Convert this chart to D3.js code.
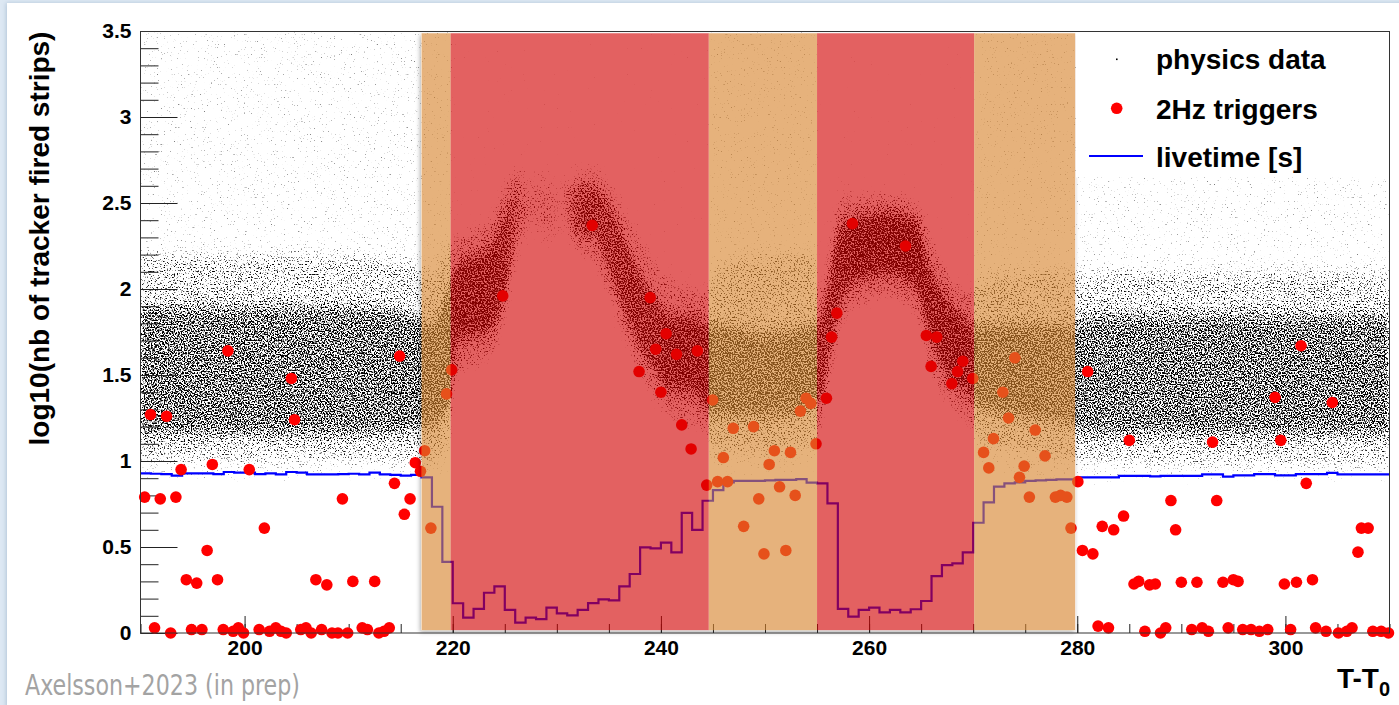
<!DOCTYPE html>
<html><head><meta charset="utf-8">
<script src="https://cdn.jsdelivr.net/npm/d3@7"></script>
<style>html,body{margin:0;padding:0;background:#fff;overflow:hidden}svg{display:block}</style>
</head><body><svg id="c" width="1399" height="705"></svg>
<script>
// ---------------- data ----------------
const xTickLabels = [200, 220, 240, 260, 280, 300];
const yTickLabels = ["0", "0.5", "1", "1.5", "2", "2.5", "3", "3.5"];

// shaded periods
const regionStart = [217, 219.8, 244.6, 255, 270.1];
const regionEnd   = [219.8, 244.6, 255, 270.1, 279.8];
const regionKind  = ["orange", "red", "orange", "red", "orange"];

// livetime per 1 s bin, bins starting at 190
const liveStart = 190;
const liveVals = [
 0.928,0.926,0.924,0.915,0.928,0.928,0.928,0.924,0.936,0.932,
 0.932,0.924,0.928,0.922,0.936,0.932,0.922,0.922,0.922,0.924,
 0.926,0.922,0.932,0.922,0.919,0.915,0.919,0.905,0.734,0.413,
 0.173,0.089,0.140,0.234,0.271,0.134,0.060,0.089,0.081,0.147,
 0.114,0.103,0.134,0.174,0.196,0.190,0.271,0.343,0.498,0.492,
 0.525,0.469,0.698,0.599,0.769,0.831,0.876,0.884,0.884,0.884,
 0.887,0.890,0.890,0.895,0.874,0.870,0.754,0.140,0.095,0.134,
 0.147,0.120,0.134,0.120,0.138,0.186,0.331,0.395,0.405,0.469,
 0.641,0.760,0.851,0.870,0.876,0.884,0.887,0.890,0.893,0.893,
 0.905,0.905,0.905,0.905,0.913,0.913,0.913,0.911,0.913,0.913,
 0.913,0.913,0.922,0.922,0.909,0.917,0.917,0.924,0.924,0.917,
 0.917,0.924,0.924,0.924,0.931,0.922,0.922,0.922,0.922,0.922];

// 2 Hz trigger events (time, log10 strips)
const trigT = [190.4,190.96,191.35,191.9,192.5,192.9,193.4,193.9,194.4,194.9,195.4,195.9,196.4,196.9,197.4,197.95,198.4,198.9,199.4,199.9,
 200.45,201.4,201.9,202.4,203.0,203.5,204.0,204.5,204.8,205.4,205.9,206.4,206.85,207.4,207.9,208.4,208.97,209.4,209.9,210.4,
 211.3,211.8,212.5,212.9,213.4,213.9,214.4,214.9,215.35,215.9,216.4,216.9,217.3,217.9,219.4,219.9,
 224.8,233.4,237.9,238.97,239.5,240.0,240.5,241.5,242.0,242.9,243.5,244.4,
 244.97,245.45,246.0,246.4,246.95,247.95,248.9,249.4,249.9,250.4,250.9,251.4,252.0,252.45,252.9,253.4,253.95,254.4,254.9,
 255.9,256.4,256.9,258.4,263.5,265.5,265.96,266.5,267.95,268.5,269.0,269.96,
 271.0,271.5,271.95,272.85,273.4,274.0,274.45,274.9,275.4,275.96,276.9,277.9,278.4,279.0,279.4,
 280.06,280.5,281.0,281.5,282.0,282.4,283.0,283.5,284.45,285.0,285.45,285.9,286.5,286.95,287.5,288.0,288.5,289.0,289.45,290.0,
 291.0,291.5,292.0,292.6,293.0,293.4,294.0,294.5,295.0,295.45,295.9,296.7,297.5,298.3,299.0,299.55,299.9,300.5,301.06,301.5,
 302.0,302.6,302.9,303.9,304.5,305.1,305.9,306.4,306.97,307.3,307.95,308.4,309.2,309.9];
const trigV = [0.79,1.27,0.03,0.78,1.26,0.0,0.79,0.95,0.31,0.02,0.29,0.02,0.48,0.98,0.31,0.02,1.64,0.01,0.03,0.0,
 0.95,0.02,0.61,0.01,0.03,0.01,0.0,1.48,1.24,0.02,0.03,0.0,0.31,0.02,0.28,0.0,0.0,0.78,0.0,0.30,
 0.03,0.02,0.30,0.0,0.01,0.03,0.87,1.61,0.69,0.78,0.99,0.94,1.06,0.61,1.39,1.53,
 1.96,2.37,1.52,1.95,1.65,1.40,1.74,1.62,1.21,1.07,1.64,0.86,
 1.355,0.88,1.02,0.88,1.19,0.62,1.20,0.78,0.46,0.98,1.06,0.85,0.48,1.05,0.80,1.29,1.365,1.335,1.10,
 1.365,1.72,1.86,2.38,2.25,1.73,1.55,1.72,1.45,1.52,1.58,1.48,
 1.05,0.96,1.13,1.40,1.25,1.60,0.905,0.97,0.79,1.18,1.03,0.79,0.80,0.79,0.61,
 0.88,0.48,1.52,0.46,0.04,0.62,0.03,0.60,0.68,1.12,0.285,0.30,0.01,0.28,0.285,0.0,0.03,0.77,0.60,0.295,
 0.02,0.295,0.03,0.01,1.11,0.77,0.295,0.03,0.31,0.30,0.02,0.02,0.01,0.02,1.37,1.12,0.285,0.02,0.295,1.67,
 0.87,0.31,0.03,0.01,1.34,0.0,0.01,0.03,0.47,0.61,0.61,0.01,0.01,0.0];

// physics-data cloud envelope (knots in time)
const cloudT   = [190,200,210,216.5,218,219.5, 220.5,222,223.5,225,226,227.5,229,230.5,232,233.5,235,236.5,238,239.5,241,243,244.4, 245,250,254.6, 255.4,256.5,257.5,259,262,264.5,266,267.5,269,269.9, 270.5,275,279.5, 281,290,300,310];
const coreLo   = [1.15,1.15,1.15,1.18,1.2,1.3, 1.7,1.72,1.75,1.95,2.25,2.4,2.35,2.4,2.3,2.3,2.1,1.85,1.65,1.5,1.4,1.4,1.3, 1.25,1.25,1.3, 1.35,1.7,1.95,2.05,2.08,2.0,1.7,1.5,1.4,1.35, 1.3,1.25,1.2, 1.15,1.15,1.15,1.15];
const coreHi   = [1.9,1.9,1.9,1.85,1.8,2.0, 2.15,2.2,2.25,2.45,2.6,2.6,2.6,2.6,2.6,2.6,2.5,2.3,2.1,1.95,1.85,1.85,1.8, 1.8,1.75,1.8, 1.85,2.2,2.4,2.42,2.45,2.4,2.1,1.95,1.85,1.8, 1.8,1.8,1.8, 1.85,1.85,1.85,1.85];
const bandLo   = [1.0,1.0,1.0,1.0,1.0,1.1, 1.5,1.55,1.6,1.8,2.1,2.3,2.25,2.3,2.2,2.15,1.95,1.7,1.5,1.35,1.25,1.2,1.15, 1.05,1.05,1.1, 1.2,1.5,1.8,1.9,1.95,1.85,1.5,1.35,1.25,1.2, 1.1,1.05,1.0, 1.0,0.98,0.98,0.98];
const bandHi   = [2.2,2.2,2.2,2.15,2.1,2.25, 2.3,2.35,2.4,2.6,2.7,2.7,2.7,2.65,2.7,2.7,2.6,2.45,2.3,2.15,2.05,2.0,2.0, 2.1,2.2,2.2, 2.0,2.4,2.55,2.55,2.55,2.5,2.3,2.1,2.0,2.0, 2.05,2.1,2.1, 2.1,2.1,2.1,2.1];
const coreOp   = [0.40,0.40,0.40,0.42,0.45,0.45, 0.55,0.55,0.55,0.5,0.35,0.12,0.18,0.08,0.45,0.5,0.45,0.5,0.5,0.5,0.55,0.55,0.55, 0.45,0.45,0.45, 0.5,0.5,0.55,0.6,0.6,0.6,0.55,0.55,0.55,0.5, 0.45,0.45,0.42, 0.40,0.40,0.40,0.40];
const bandOp   = [0.24,0.24,0.24,0.24,0.26,0.26, 0.3,0.3,0.3,0.27,0.22,0.1,0.12,0.07,0.24,0.27,0.27,0.27,0.27,0.27,0.3,0.3,0.3, 0.26,0.26,0.26, 0.27,0.27,0.3,0.32,0.32,0.32,0.3,0.3,0.3,0.28, 0.26,0.26,0.24, 0.24,0.24,0.24,0.24];
const sparseLo = [0.88,0.88,0.88,0.88,0.88,0.92, 1.45,1.5,1.55,1.75,2.05,2.25,2.2,2.25,2.15,2.1,1.9,1.65,1.45,1.3,1.2,1.15,1.1, 0.92,0.92,0.92, 1.15,1.45,1.75,1.85,1.9,1.8,1.45,1.3,1.2,1.15, 0.92,0.9,0.88, 0.88,0.88,0.88,0.88];
const sparseOp = [0.14,0.14,0.14,0.14,0.14,0.14, 0.06,0.06,0.06,0.06,0.06,0.06,0.06,0.06,0.06,0.06,0.06,0.06,0.06,0.06,0.06,0.06,0.06, 0.14,0.14,0.14, 0.05,0.05,0.05,0.05,0.05,0.05,0.05,0.05,0.05,0.05, 0.14,0.14,0.14, 0.14,0.14,0.14,0.14];

const legendLabels = ["physics data", "2Hz triggers", "livetime [s]"];

// ---------------- drawing ----------------
const W = 1399, H = 705;
const svg = d3.select("#c");
const defs = svg.append("defs");
const FONT = "'Liberation Sans', Arial, Helvetica, sans-serif";

const x = d3.scaleLinear().domain([190, 310]).range([140.5, 1389.5]);
const y = d3.scaleLinear().domain([0, 3.5]).range([633, 31]);

// page background
svg.append("rect").attr("width", W).attr("height", H).attr("fill", "#dde8f3");
const ps = defs.append("filter").attr("id", "pageShadow").attr("x", "-2%").attr("y", "-2%").attr("width", "104%").attr("height", "104%");
ps.append("feDropShadow").attr("dx", -1).attr("dy", 0).attr("stdDeviation", 2).attr("flood-color", "#7f9bb8").attr("flood-opacity", 0.45);
svg.append("rect").attr("x", 7).attr("y", 3).attr("width", W).attr("height", H).attr("fill", "#fff").attr("filter", "url(#pageShadow)");

// speckle filter for the dense scatter of physics events
const sp = defs.append("filter").attr("id", "speckle").attr("filterUnits", "userSpaceOnUse")
  .attr("x", 141).attr("y", 32).attr("width", 1248).attr("height", 601)
  .attr("color-interpolation-filters", "sRGB");
sp.append("feGaussianBlur").attr("in", "SourceGraphic").attr("stdDeviation", "2 7").attr("result", "d");
sp.append("feTurbulence").attr("type", "fractalNoise").attr("baseFrequency", 0.7).attr("numOctaves", 1).attr("seed", 7).attr("result", "t");
sp.append("feColorMatrix").attr("in", "t").attr("type", "matrix")
  .attr("values", "0 0 0 0 0  0 0 0 0 0  0 0 0 0 0  1 0 0 0 0").attr("result", "n0");
sp.append("feComponentTransfer").attr("in", "n0").attr("result", "n")
  .append("feFuncA").attr("type", "table").attr("tableValues", "0 0 0.02 0.08 0.2 0.4 0.6 0.8 0.92 0.98 1 1");
sp.append("feComposite").attr("in", "d").attr("in2", "n").attr("operator", "arithmetic")
  .attr("k1", 0).attr("k2", 4).attr("k3", -4).attr("k4", 0);

// opacity gradients along time
function opGrad(id, ops) {
  const g = defs.append("linearGradient").attr("id", id).attr("gradientUnits", "userSpaceOnUse")
    .attr("x1", x(190)).attr("x2", x(310)).attr("y1", 0).attr("y2", 0);
  cloudT.forEach((t, i) => {
    g.append("stop").attr("offset", (x(t) - x(190)) / (x(310) - x(190)))
      .attr("stop-color", "#000").attr("stop-opacity", ops[i]);
  });
}
opGrad("gSparse", sparseOp);
opGrad("gBand", bandOp);
opGrad("gCore", coreOp);

const idx = d3.range(cloudT.length);
const area = (lo, hi) => d3.area().x(i => x(cloudT[i])).y0(i => y(lo(i))).y1(i => y(hi(i))).curve(d3.curveMonotoneX)(idx);

const cloud = svg.append("g").attr("filter", "url(#speckle)");
cloud.append("path").attr("d", area(i => sparseLo[i], i => 3.6)).attr("fill", "url(#gSparse)");
cloud.append("path").attr("d", area(i => bandLo[i], i => bandHi[i])).attr("fill", "url(#gBand)");
cloud.append("path").attr("d", area(i => coreLo[i], i => coreHi[i])).attr("fill", "url(#gCore)");

// axes ticks (ROOT style, inside frame)
const yMinor = d3.range(0, 35.01, 1).map(d => d / 10);
const yMajor = yTickLabels.map(Number);
const xMinor = d3.range(190, 311, 5);
const xMajor = xTickLabels;

const axG = svg.append("g").attr("stroke-width", 1);
axG.append("g").attr("transform", "translate(140.5,0)")
  .call(d3.axisRight(y).tickValues(yMinor).tickSize(18).tickFormat(""));
axG.append("g").attr("transform", "translate(140.5,0)")
  .call(d3.axisRight(y).tickValues(yMajor).tickSize(37).tickFormat(""));
axG.append("g").attr("transform", "translate(0,633)")
  .call(d3.axisTop(x).tickValues(xMinor).tickSize(9).tickFormat(""));
axG.append("g").attr("transform", "translate(0,633)")
  .call(d3.axisTop(x).tickValues(xMajor).tickSize(17).tickFormat(""));
axG.selectAll(".domain").remove();
axG.selectAll(".tick line").attr("stroke", "#222");

// tick labels
const yl = svg.append("g").attr("transform", "translate(140.5,0)")
  .call(d3.axisLeft(y).tickValues(yMajor).tickSize(0).tickPadding(9).tickFormat((d, i) => yTickLabels[i]));
yl.select(".domain").remove();
yl.selectAll("text").attr("font-family", FONT).attr("font-weight", "bold").attr("font-size", 21).attr("fill", "#000");
const xl = svg.append("g").attr("transform", "translate(0,633)")
  .call(d3.axisBottom(x).tickValues(xMajor).tickSize(0).tickPadding(7).tickFormat(d => String(d)));
xl.select(".domain").remove();
xl.selectAll("text").attr("font-family", FONT).attr("font-weight", "bold").attr("font-size", 21).attr("fill", "#000");

// livetime step line
const livePts = liveVals.map((v, i) => [liveStart + i, v]);
livePts.push([liveStart + liveVals.length, liveVals[liveVals.length - 1]]);
svg.append("path")
  .attr("d", d3.line().x(d => x(d[0])).y(d => y(d[1])).curve(d3.curveStepAfter)(livePts))
  .attr("fill", "none").attr("stroke", "#0000ff").attr("stroke-width", 2.2);

// 2 Hz triggers
svg.append("g").selectAll("circle").data(trigT).join("circle")
  .attr("cx", d => x(d)).attr("cy", (d, i) => y(trigV[i])).attr("r", 5.8).attr("fill", "#ff0000");

// shaded periods overlay (semi-transparent, with soft shadow)
const bs = defs.append("filter").attr("id", "boxShadow").attr("filterUnits", "userSpaceOnUse")
  .attr("x", 400).attr("y", 25).attr("width", 700).attr("height", 620);
bs.append("feColorMatrix").attr("in", "SourceAlpha").attr("type", "matrix")
  .attr("values", "0 0 0 0 0  0 0 0 0 0  0 0 0 0 0  0 0 0 5 0").attr("result", "mask");
bs.append("feGaussianBlur").attr("in", "mask").attr("stdDeviation", 2).attr("result", "bl");
bs.append("feOffset").attr("in", "bl").attr("dx", -1).attr("dy", 2).attr("result", "of");
bs.append("feComposite").attr("in", "of").attr("in2", "mask").attr("operator", "out").attr("result", "sh");
bs.append("feColorMatrix").attr("in", "sh").attr("type", "matrix")
  .attr("values", "0 0 0 0 0  0 0 0 0 0  0 0 0 0 0  0 0 0 0.3 0").attr("result", "sh2");
const bm = bs.append("feMerge");
bm.append("feMergeNode").attr("in", "sh2");
bm.append("feMergeNode").attr("in", "SourceGraphic");

const regionColor = { orange: "rgb(214,131,45)", red: "rgb(210,5,8)" };
svg.append("g").attr("filter", "url(#boxShadow)").selectAll("rect").data(regionStart).join("rect")
  .attr("x", d => x(d)).attr("width", (d, i) => x(regionEnd[i]) - x(d))
  .attr("y", y(3.487)).attr("height", y(0.017) - y(3.487))
  .attr("fill", (d, i) => regionColor[regionKind[i]]).attr("fill-opacity", 0.62);

// legend
const lg = svg.append("g");
lg.append("rect").attr("x", 1076).attr("y", 31.5).attr("width", 1389.5 - 1076).attr("height", 146).attr("fill", "#fff");
const rowY = [68.5, 119, 167];
legendLabels.forEach((t, i) => {
  lg.append("text").attr("x", 1156).attr("y", rowY[i]).text(t)
    .attr("font-family", FONT).attr("font-weight", "bold").attr("font-size", 28).attr("fill", "#000");
});
lg.append("rect").attr("x", 1116).attr("y", 58.5).attr("width", 1.6).attr("height", 1.6).attr("fill", "#000");
lg.append("circle").attr("cx", 1116.7).attr("cy", 108.3).attr("r", 5.8).attr("fill", "#ff0000");
lg.append("line").attr("x1", 1089).attr("x2", 1143).attr("y1", 156).attr("y2", 156).attr("stroke", "#0000ff").attr("stroke-width", 2.2);

// frame
svg.append("rect").attr("x", 140.5).attr("y", 31.5).attr("width", 1249).attr("height", 601.5)
  .attr("fill", "none").attr("stroke", "#333").attr("stroke-width", 1);

// axis titles
svg.append("text").attr("transform", "translate(48.5,238.5) rotate(-90)").attr("text-anchor", "middle")
  .attr("font-family", FONT).attr("font-weight", "bold").attr("font-size", 28).attr("fill", "#000")
  .text("log10(nb of tracker fired strips)");
const xt = svg.append("text").attr("x", 1390).attr("y", 688).attr("text-anchor", "end")
  .attr("font-family", FONT).attr("font-weight", "bold").attr("font-size", 28).attr("fill", "#000");
xt.append("tspan").text("T-T");
xt.append("tspan").attr("font-size", 20).attr("dy", 8).text("0");

// credit
svg.append("text").attr("x", 25).attr("y", 695)
  .attr("font-family", "'Liberation Sans Narrow', 'DejaVu Sans Condensed', 'Liberation Sans', sans-serif")
  .attr("font-size", 28).attr("fill", "#a3a3a3")
  .attr("textLength", 275).attr("lengthAdjust", "spacingAndGlyphs")
  .text("Axelsson+2023 (in prep)");
</script></body></html>
